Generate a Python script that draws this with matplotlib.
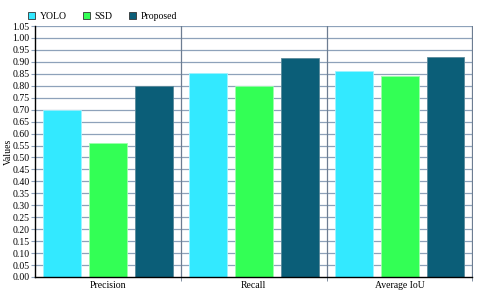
import matplotlib
matplotlib.use("Agg")
import matplotlib.pyplot as plt
import numpy as np

categories = ["Precision", "Recall", "Average IoU"]
series_names = ["YOLO", "SSD", "Proposed"]
yolo = [0.70, 0.855, 0.86]
ssd = [0.56, 0.80, 0.84]
proposed = [0.80, 0.915, 0.92]
yticks = np.round(np.arange(0, 1.0501, 0.05), 2)

colors = ["#33e9ff", "#33ff55", "#0b5e78"]
edges = ["#9ff3ff", "#9dffac", "#5a8a9a"]

plt.rcParams["font.family"] = ["Liberation Serif", "DejaVu Serif"]

fig = plt.figure(figsize=(4.8, 2.92), dpi=100)
ax = fig.add_axes([35 / 480, 15 / 292, 437.5 / 480, 251 / 292])

x = np.arange(len(categories))
width = 0.26
offset = 0.315
for i, (vals, name) in enumerate(zip([yolo, ssd, proposed], series_names)):
    ax.bar(x + (i - 1) * offset, vals, width, color=colors[i], edgecolor=edges[i],
           linewidth=0.6, label=name, zorder=3)

# grid
for yv in yticks[1:]:
    ax.axhline(yv, color="#8ea2ba", linewidth=0.9, zorder=1)
for xv in [0.5, 1.5, 2.5]:
    ax.axvline(xv, color="#6d7d92", linewidth=0.9, zorder=2)

ax.set_xlim(-0.5, 2.5)
ax.set_ylim(0, 1.05)
ax.set_yticks(yticks)
ax.set_yticklabels([f"{v:.2f}" for v in yticks])
ax.set_xticks(x)
ax.set_xticklabels(categories)
ax.set_xticks([0.5, 1.5, 2.5], minor=True)
ax.tick_params(axis="x", which="major", length=0, labelsize=7, pad=3)
ax.tick_params(axis="x", which="minor", length=3, color="#6d7d92")
ax.tick_params(axis="y", length=3, color="#8ea2ba", labelsize=7, pad=1)
for s in ["top", "right"]:
    ax.spines[s].set_visible(False)
ax.spines["left"].set_linewidth(1.0)
ax.spines["bottom"].set_linewidth(1.0)
ax.spines["left"].set_zorder(4)
ax.spines["bottom"].set_zorder(4)
ax.set_ylabel("Values", fontsize=7)
ax.yaxis.set_label_coords(-0.05, 0.5)

leg = fig.legend(loc="upper left", bbox_to_anchor=(0.04, 0.99), ncol=3, frameon=False,
                 fontsize=7, handlelength=0.7, handleheight=0.7, handletextpad=0.5,
                 columnspacing=1.7)
for h in leg.legend_handles:
    h.set_edgecolor("#333333")
    h.set_linewidth(0.6)

fig.savefig("out.png", dpi=100)
